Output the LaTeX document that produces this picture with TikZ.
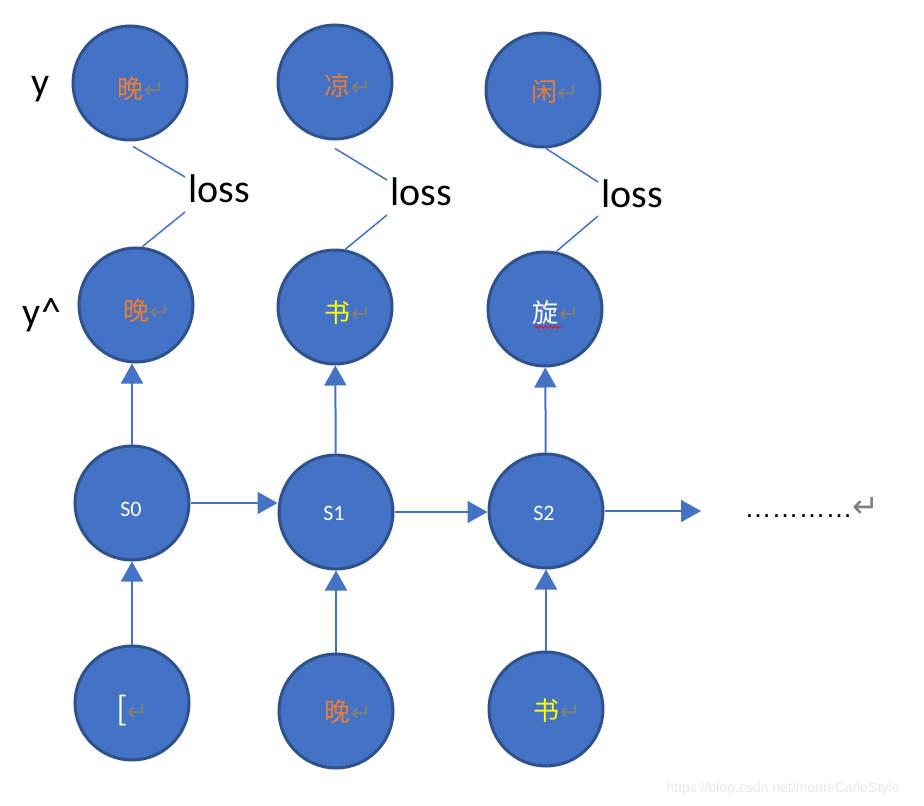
\documentclass[tikz,border=0pt]{standalone}
\usepackage{fontspec}
\setmainfont{Carlito}
\newfontfamily\cjk{Noto Sans CJK SC}
\newfontfamily\symf{DejaVu Sans}
\newfontfamily\arialf{Liberation Sans}
\usetikzlibrary{arrows.meta,decorations.pathmorphing}
\definecolor{fillblue}{HTML}{4472C4}
\definecolor{edgeblue}{HTML}{2F528F}
\definecolor{wordorange}{HTML}{ED7D31}
\definecolor{retgray}{HTML}{7F7F7F}
\definecolor{wordyellow}{HTML}{FFFF00}
\newcommand\retmark{{\symf\color{retgray}\fontsize{25}{25}\selectfont ↵}}
\tikzset{
  circ/.style={circle, draw=edgeblue, line width=3pt, fill=fillblue, minimum size=114pt, inner sep=0pt},
  ctext/.style={inner sep=0pt, font=\cjk\fontsize{26}{30}\selectfont},
  stext/.style={inner sep=0pt, text=white, font=\fontsize{22}{24}\selectfont},
  bigtext/.style={inner sep=0pt, font=\fontsize{40}{44}\selectfont},
  arr/.style={draw=fillblue, line width=2pt, -{Triangle[length=20pt,width=22pt]}},
  lossline/.style={draw=fillblue, line width=1.5pt},
}
\begin{document}
\begin{tikzpicture}[x=1pt,y=-1pt]
\useasboundingbox (0,0) rectangle (924,806);
% circles
\node[circ] (y1) at (130,83) {};
\node[circ] (y2) at (335,82) {};
\node[circ] (y3) at (543,90) {};
\node[circ] (h1) at (136,305) {};
\node[circ] (h2) at (335,307) {};
\node[circ] (h3) at (545,309) {};
\node[circ] (s1) at (132,503) {};
\node[circ] (s2) at (336,512) {};
\node[circ] (s3) at (546,511) {};
\node[circ] (x1) at (132,703) {};
\node[circ] (x2) at (336,711) {};
\node[circ] (x3) at (546,709) {};
% texts in circles
\node[ctext, text=wordorange] (ty1) at (141,89) {晚\retmark};
\node[ctext, text=wordorange] (ty2) at (348,86) {凉\retmark};
\node[ctext, text=wordorange] (ty3) at (555,92) {闲\retmark};
\node[ctext, text=wordorange] (th1) at (147,311) {晚\retmark};
\node[ctext, text=wordyellow] (th2) at (348,313) {书\retmark};
\node[ctext, text=white] (th3) at (556,313) {旋\retmark};
\draw[red, line width=0.8pt, decorate, decoration={snake, amplitude=1.3pt, segment length=5pt}] (534,327) -- (562,327);
\node[stext] (ts1) at (131,509) {S0};
\node[stext] (ts2) at (334,513) {S1};
\node[stext] (ts3) at (544,513) {S2};
\node[ctext, text=white, font=\cjk\fontsize{32}{34}\selectfont] (tx1) at (132,711) {[\retmark};
\node[ctext, text=wordorange] (tx2) at (348,712) {晚\retmark};
\node[ctext, text=wordyellow] (tx3) at (557,711) {书\retmark};
% side labels
\node[bigtext] (ly) at (41,89) {y};
\node[bigtext] (lyh) at (42,315) {y\textasciicircum};
% loss labels
\node[bigtext, anchor=west] (loss1) at (188,189) {loss};
\node[bigtext, anchor=west] (loss2) at (390,192) {loss};
\node[bigtext, anchor=west] (loss3) at (601,194) {loss};
\draw[lossline] ([shift={(3,5)}]y1.south) -- ([shift={(-3,-12)}]loss1.west);
\draw[lossline] ([shift={(-3,23)}]loss1.west) -- (h1.84);
\draw[lossline] ([shift={(0,8)}]y2.south) -- ([shift={(-3,-12)}]loss2.west);
\draw[lossline] ([shift={(-3,23)}]loss2.west) -- (h2.80);
\draw[lossline] ([shift={(3,0)}]y3.south) -- ([shift={(-3,-12)}]loss3.west);
\draw[lossline] ([shift={(-3,22)}]loss3.west) -- (h3.79);
% arrows
\draw[arr] (x1) -- (s1);
\draw[arr] (x2) -- (s2);
\draw[arr] (x3) -- (s3);
\draw[arr] (s1.north) -- (s1.north |- h1.south);
\draw[arr] (s2) -- (h2);
\draw[arr] (s3) -- (h3);
\draw[arr] (s1.east) -- (s1.east -| s2.west);
\draw[arr] (s2.east) -- (s2.east -| s3.west);
\coordinate (send) at (701,511);
\draw[arr] (s3) -- (send);
\node[inner sep=0pt] (dots) at (812,507) {{\arialf\fontsize{27}{27}\selectfont …………}{\symf\color{retgray}\fontsize{32}{32}\selectfont ↵}};
% watermark
\node[inner sep=0pt, text=black!9, font=\arialf\fontsize{14}{14}\selectfont] (wm) at (783,789) {https://blog.csdn.net/monteCarloStyle};
\end{tikzpicture}
\end{document}
